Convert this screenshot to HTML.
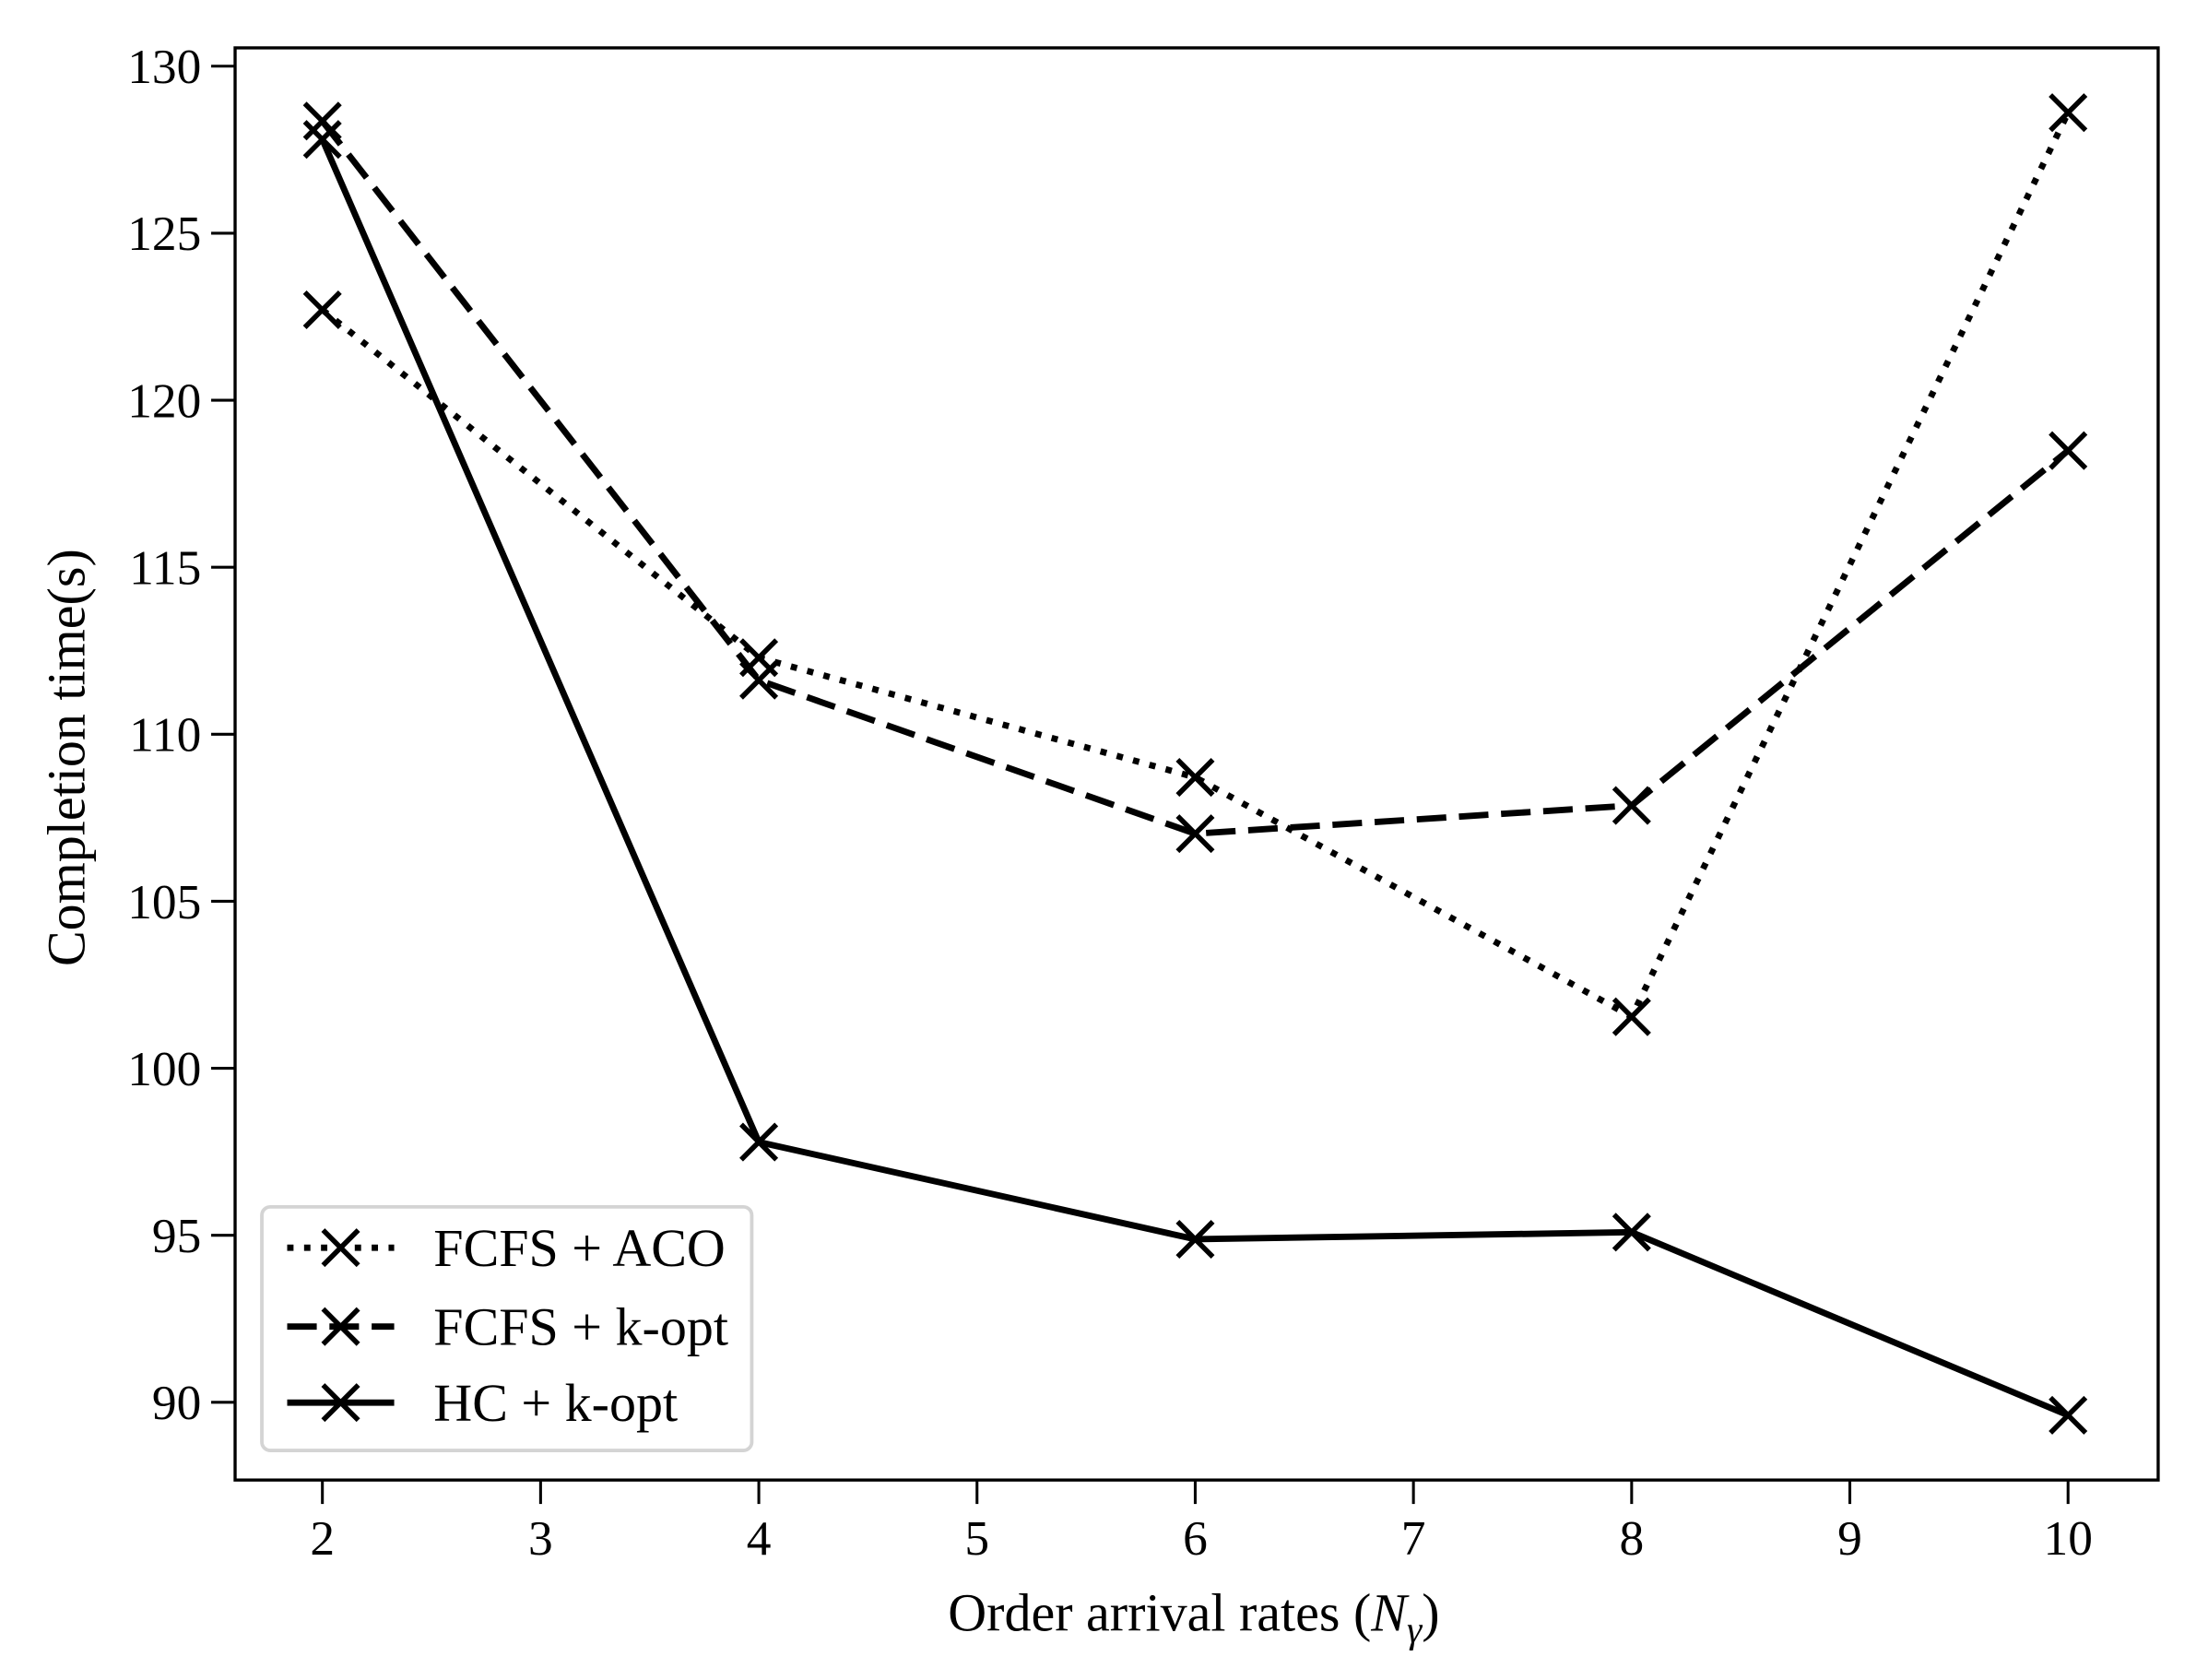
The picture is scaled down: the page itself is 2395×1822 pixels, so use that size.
<!DOCTYPE html>
<html><head><meta charset="utf-8"><style>
html,body{margin:0;padding:0;background:#fff;}
svg{display:block;}
text{font-family:"Liberation Serif",serif;fill:#000;}
</style></head><body>
<svg width="2395" height="1822" viewBox="0 0 1568.4 1193" preserveAspectRatio="none" xmlns="http://www.w3.org/2000/svg">
<rect x="0" y="0" width="1568.4" height="1193" fill="#fff"/>
<defs>
<g id="m"><path d="M-12.5,-12.5L12.5,12.5M-12.5,12.5L12.5,-12.5" stroke="#000" stroke-width="3.6" fill="none"/></g>
</defs>
<polyline points="229,220 539,467 849,552 1159,722 1469,80" fill="none" stroke="#000" stroke-width="4.5" stroke-dasharray="4.5 7.5"/>
<polyline points="229,86 539,483 849,592 1159,572 1469,320" fill="none" stroke="#000" stroke-width="4.5" stroke-dasharray="21 9"/>
<polyline points="229,99 539,811 849,880 1159,875 1469,1005" fill="none" stroke="#000" stroke-width="4.5"/>
<use href="#m" x="229" y="220"/><use href="#m" x="539" y="467"/><use href="#m" x="849" y="552"/><use href="#m" x="1159" y="722"/><use href="#m" x="1469" y="80"/>
<use href="#m" x="229" y="86"/><use href="#m" x="539" y="483"/><use href="#m" x="849" y="592"/><use href="#m" x="1159" y="572"/><use href="#m" x="1469" y="320"/>
<use href="#m" x="229" y="99"/><use href="#m" x="539" y="811"/><use href="#m" x="849" y="880"/><use href="#m" x="1159" y="875"/><use href="#m" x="1469" y="1005"/>
<rect x="167" y="34" width="1366" height="1017" fill="none" stroke="#000" stroke-width="2.2"/>
<g stroke="#000" stroke-width="2">
<line x1="229" y1="1051" x2="229" y2="1068"/><line x1="384" y1="1051" x2="384" y2="1068"/><line x1="539" y1="1051" x2="539" y2="1068"/><line x1="694" y1="1051" x2="694" y2="1068"/><line x1="849" y1="1051" x2="849" y2="1068"/><line x1="1004" y1="1051" x2="1004" y2="1068"/><line x1="1159" y1="1051" x2="1159" y2="1068"/><line x1="1314" y1="1051" x2="1314" y2="1068"/><line x1="1469" y1="1051" x2="1469" y2="1068"/>
<line x1="150" y1="47" x2="167" y2="47"/><line x1="150" y1="165.6" x2="167" y2="165.6"/><line x1="150" y1="284.2" x2="167" y2="284.2"/><line x1="150" y1="402.8" x2="167" y2="402.8"/><line x1="150" y1="521.4" x2="167" y2="521.4"/><line x1="150" y1="640" x2="167" y2="640"/><line x1="150" y1="758.6" x2="167" y2="758.6"/><line x1="150" y1="877.2" x2="167" y2="877.2"/><line x1="150" y1="995.8" x2="167" y2="995.8"/>
</g>
<g font-size="35" text-anchor="middle">
<text x="229" y="1104">2</text><text x="384" y="1104">3</text><text x="539" y="1104">4</text><text x="694" y="1104">5</text><text x="849" y="1104">6</text><text x="1004" y="1104">7</text><text x="1159" y="1104">8</text><text x="1314" y="1104">9</text><text x="1469" y="1104">10</text>
</g>
<g font-size="35" text-anchor="end">
<text x="143" y="59">130</text><text x="143" y="177.6">125</text><text x="143" y="296.2">120</text><text x="143" y="414.8">115</text><text x="143" y="533.4">110</text><text x="143" y="652">105</text><text x="143" y="770.6">100</text><text x="143" y="889.2">95</text><text x="143" y="1007.8">90</text>
</g>
<text x="848" y="1158" font-size="38" text-anchor="middle">Order arrival rates (<tspan font-style="italic">N</tspan><tspan font-style="italic" font-size="27" dy="8">γ</tspan><tspan dy="-8">)</tspan></text>
<text transform="translate(60,538) rotate(-90)" font-size="38" text-anchor="middle">Completion time(s)</text>
<rect x="186" y="857" width="348" height="173" rx="6" fill="#fff" stroke="#d4d4d4" stroke-width="2.5"/>
<line x1="204" y1="886" x2="280" y2="886" stroke="#000" stroke-width="4.5" stroke-dasharray="4.5 7.5"/>
<line x1="204" y1="942" x2="280" y2="942" stroke="#000" stroke-width="4.5" stroke-dasharray="21 9"/>
<line x1="204" y1="996" x2="280" y2="996" stroke="#000" stroke-width="4.5"/>
<use href="#m" x="242" y="886"/><use href="#m" x="242" y="942"/><use href="#m" x="242" y="996"/>
<g font-size="38">
<text x="308" y="899">FCFS + ACO</text>
<text x="308" y="955">FCFS + k-opt</text>
<text x="308" y="1009">HC + k-opt</text>
</g>
</svg>
</body></html>
